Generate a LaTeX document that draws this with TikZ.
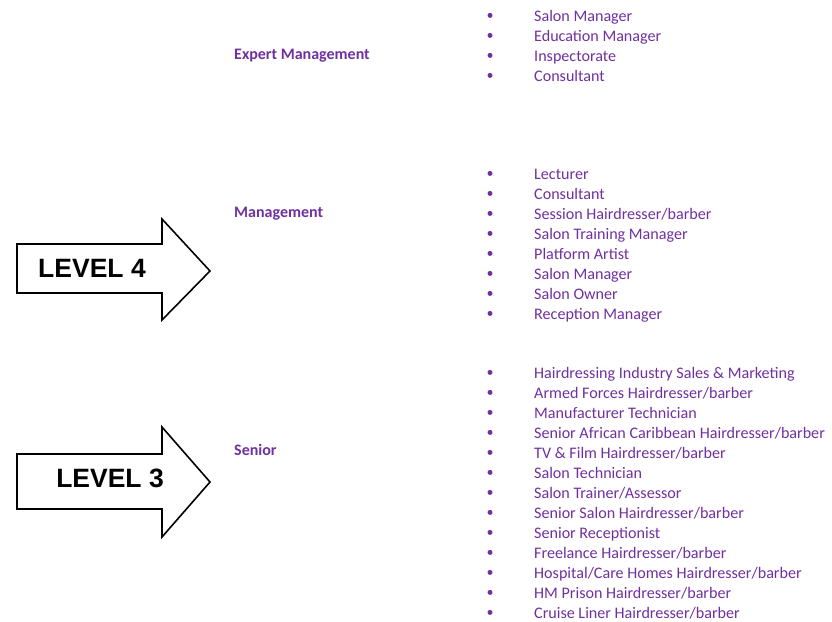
\documentclass[tikz,border=0pt]{standalone}
\usepackage{fontspec}
\setmainfont{Carlito}
\newfontfamily\arialfont{Liberation Sans}
\usetikzlibrary{positioning}
\definecolor{jobpurple}{RGB}{112,48,160}

\begin{document}
\begin{tikzpicture}[x=1pt,y=-1pt,
  heading/.style={anchor=base west,inner sep=0pt,text=jobpurple,font=\bfseries\fontsize{16}{18}\selectfont},
  job/.style={anchor=base west,inner sep=0pt,text=jobpurple,font=\fontsize{16.1}{18}\selectfont},
  dot/.style={circle,fill=jobpurple,inner sep=0pt,minimum size=5pt},
  levelarrow/.style={draw=black,line width=1.6pt,fill=white,line join=miter},
  leveltext/.style={inner sep=0pt,font=\arialfont\bfseries\fontsize{26.5}{28}\selectfont}]
\useasboundingbox (0,0) rectangle (832,621);
\def\XDOT{490};\def\XJOB{534};\def\XHEAD{234};
% arrows for the two levels
\filldraw[levelarrow] (17,244)--(162,244)--(162,219)--(210,271)--(162,320)--(162,293)--(17,293)--cycle;
\filldraw[levelarrow] (17,454)--(162,454)--(162,427)--(210,482)--(162,537)--(162,509)--(17,509)--cycle;
\node[leveltext] (lvl4) at (92,268) {LEVEL 4};
\node[leveltext] (lvl3) at (110,478) {LEVEL 3};
% headings
\node[heading] (expert) at (\XHEAD,59) {Expert Management};
\node[heading] (manage) at (\XHEAD,217) {Management};
\node[heading] (senior) at (\XHEAD,455) {Senior};
% job lists
\foreach \t [count=\i] in {Salon Manager,Education Manager,Inspectorate,Consultant}{
  \node[job] (ex-\i) at (\XJOB,1+20*\i) {\t};
  \node[dot] (exdot-\i) at (\XDOT,-4.6+20*\i) {};
}
\foreach \t [count=\i] in {Lecturer,Consultant,Session Hairdresser/barber,Salon Training Manager,
  Platform Artist,Salon Manager,Salon Owner,Reception Manager}{
  \node[job] (mg-\i) at (\XJOB,159+20*\i) {\t};
  \node[dot] (mgdot-\i) at (\XDOT,153.4+20*\i) {};
}
\foreach \t [count=\i] in {Hairdressing Industry Sales \& Marketing,Armed Forces Hairdresser/barber,
  Manufacturer Technician,Senior African Caribbean Hairdresser/barber,TV \& Film Hairdresser/barber,
  Salon Technician,Salon Trainer/Assessor,Senior Salon Hairdresser/barber,Senior Receptionist,
  Freelance Hairdresser/barber,Hospital/Care Homes Hairdresser/barber,HM Prison Hairdresser/barber,
  Cruise Liner Hairdresser/barber}{
  \node[job] (sn-\i) at (\XJOB,358+20*\i) {\t};
  \node[dot] (sndot-\i) at (\XDOT,352.4+20*\i) {};
}
\end{tikzpicture}
\end{document}
